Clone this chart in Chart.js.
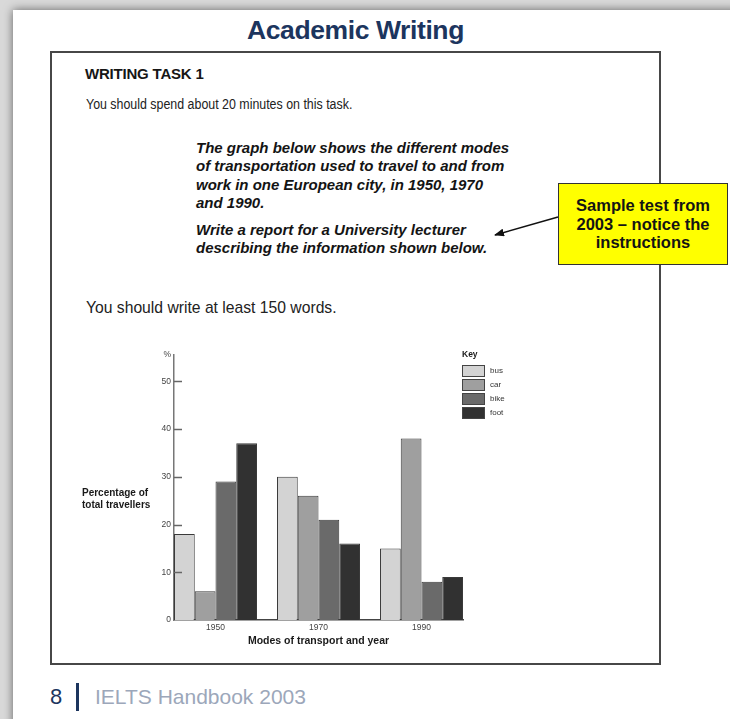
<!DOCTYPE html>
<html>
<head>
<meta charset="utf-8">
<script src="https://cdn.jsdelivr.net/npm/chart.js@4/dist/chart.umd.min.js"></script>
<style>
  html, body { margin: 0; padding: 0; }
  body { width: 730px; height: 719px; overflow: hidden; background: #d9d9d9; position: relative; font-family: 'Liberation Sans', Arial, sans-serif; }
  .page { position: absolute; left: 13px; top: 10px; width: 740px; height: 730px; background: #fff; box-shadow: 0 0 9px rgba(0,0,0,0.55); }
  .t { position: absolute; white-space: nowrap; color: #161616; }
  .frame { position: absolute; left: 50px; top: 51px; width: 611px; height: 614px; box-sizing: border-box; border: 2px solid #474747; }
  .brief { position: absolute; left: 196px; font-weight: bold; font-style: italic; font-size: 15px; line-height: 18.4px; color: #141414; }
  .note { position: absolute; left: 558px; top: 183px; width: 170px; height: 82px; box-sizing: border-box; background: #ffff00; border: 1.5px solid #333; text-align: center; font-weight: bold; font-size: 16.5px; line-height: 18.5px; padding-top: 12px; color: #141414; z-index: 3; }
  #wrap { position: absolute; left: 60px; top: 340px; width: 520px; height: 320px; }
  svg.arrow { position: absolute; left: 0; top: 0; z-index: 2; }
</style>
</head>
<body>
<div class="page"></div>
<div class="t" style="left:247px; top:15px; font-size:26.5px; font-weight:bold; letter-spacing:-0.4px; color:#1c355e;">Academic Writing</div>
<div class="frame"></div>
<div class="t" style="left:85px; top:65px; font-size:15px; font-weight:bold; letter-spacing:-0.2px;">WRITING TASK 1</div>
<div class="t" style="left:86px; top:95px; font-size:15.5px; transform:scaleX(0.8); transform-origin:left; color:#222;">You should spend about 20 minutes on this task.</div>
<div class="brief" style="top:139px;">The graph below shows the different modes<br>of transportation used to travel to and from<br>work in one European city, in 1950, 1970<br>and 1990.</div>
<div class="brief" style="top:221px;">Write a report for a University lecturer<br>describing the information shown below.</div>
<div class="t" style="left:86px; top:299px; font-size:15.7px; color:#222;">You should write at least 150 words.</div>
<div class="note">Sample test from<br>2003 – notice the<br>instructions</div>
<svg class="arrow" width="730" height="719">
  <defs>
    <marker id="ah" markerWidth="10" markerHeight="8" refX="9" refY="4" orient="auto" markerUnits="userSpaceOnUse">
      <path d="M0,0 L10,4 L0,8 z" fill="#111"/>
    </marker>
  </defs>
  <line x1="558" y1="217" x2="495" y2="235" stroke="#111" stroke-width="1.6" marker-end="url(#ah)"/>
</svg>
<div id="wrap"><canvas id="chart" width="520" height="320"></canvas></div>
<div class="t" style="left:50px; top:684px; font-size:22px; color:#1c355e;">8</div>
<div style="position:absolute; left:76px; top:683px; width:2.5px; height:28px; background:#1c355e;"></div>
<div class="t" style="left:95px; top:685px; font-size:21px; color:#9ca7ba;">IELTS Handbook 2003</div>

<script>
const years = ['1950', '1970', '1990'];
const modes = ['bus', 'car', 'bike', 'foot'];
const bus = [18, 30, 15];
const car = [6, 26, 38];
const bike = [29, 21, 8];
const foot = [37, 16, 9];
const yTicks = [0, 10, 20, 30, 40, 50];
const yMax = 55.5;

const series = [bus, car, bike, foot];
const fills = ['#d3d3d3', '#9f9f9f', '#6a6a6a', '#313131'];

Chart.defaults.font.family = "'Liberation Sans', Arial, sans-serif";

// short tick marks pointing into the plot, the side caption and the key box
const extras = {
  id: 'extras',
  afterDraw(chart) {
    const { ctx, chartArea, scales } = chart;
    const y = scales.y;
    ctx.save();

    ctx.strokeStyle = '#666';
    ctx.lineWidth = 1.5;
    yTicks.slice(1).forEach(v => {
      const py = Math.round(y.getPixelForValue(v)) + 0.5;
      ctx.beginPath();
      ctx.moveTo(chartArea.left, py);
      ctx.lineTo(chartArea.left + 8, py);
      ctx.stroke();
    });

    const mid = y.getPixelForValue(25);
    ctx.fillStyle = '#1a1a1a';
    ctx.font = "bold 10px 'Liberation Sans', Arial, sans-serif";
    ctx.textAlign = 'left';
    ctx.textBaseline = 'middle';
    ctx.fillText('Percentage of', chartArea.left - 92, mid - 7);
    ctx.fillText('total travellers', chartArea.left - 92, mid + 5);

    const kx = chartArea.right - 1;
    const ky = chartArea.top;
    ctx.font = "bold 8.5px 'Liberation Sans', Arial, sans-serif";
    ctx.fillText('Key', kx, ky);
    ctx.font = "8px 'Liberation Sans', Arial, sans-serif";
    chart.data.datasets.forEach((ds, i) => {
      const by = ky + 10 + i * 14;
      ctx.fillStyle = ds.backgroundColor;
      ctx.fillRect(kx, by, 23, 12);
      ctx.strokeStyle = '#444';
      ctx.lineWidth = 1;
      ctx.strokeRect(kx + 0.5, by + 0.5, 22, 11);
      ctx.fillStyle = '#333';
      ctx.fillText(ds.label, kx + 28, by + 6);
    });
    ctx.restore();
  }
};

new Chart(document.getElementById('chart'), {
  type: 'bar',
  data: {
    datasets: modes.map((m, i) => ({
      label: m,
      data: series[i].map((v, j) => ({ x: j, y: v })),
      backgroundColor: fills[i],
      borderColor: '#3a3a3a',
      borderWidth: 1,
      barPercentage: 1,
      categoryPercentage: 0.806
    }))
  },
  options: {
    responsive: false,
    animation: false,
    layout: { padding: { left: 84, right: 117, top: 15, bottom: 10 } },
    plugins: { legend: { display: false }, tooltip: { enabled: false } },
    scales: {
      x: {
        type: 'linear',
        offset: false,
        min: -0.403,
        max: 2.403,
        afterBuildTicks: s => { s.ticks = years.map((_, i) => ({ value: i })); },
        afterFit: s => { s.height = 30; },
        grid: { display: false, drawTicks: false, offset: false },
        border: { color: '#444', width: 1.5 },
        ticks: { callback: v => years[v], font: { size: 8.5 }, color: '#444', padding: 3, autoSkip: false, maxRotation: 0 },
        title: { display: true, text: 'Modes of transport and year', font: { size: 10.5, weight: 'bold' }, color: '#1a1a1a', padding: { top: 0, bottom: 3 } }
      },
      y: {
        min: 0,
        max: yMax,
        afterBuildTicks: s => { s.ticks = yTicks.concat(yMax).map(v => ({ value: v })); },
        afterFit: s => { s.width = 30; },
        grid: { display: false, drawTicks: false },
        border: { color: '#777', width: 1.5 },
        ticks: { callback: v => v === yMax ? '%' : v, font: { size: 8.5 }, color: '#444', padding: 3 }
      }
    }
  },
  plugins: [extras]
});
</script>
</body>
</html>
